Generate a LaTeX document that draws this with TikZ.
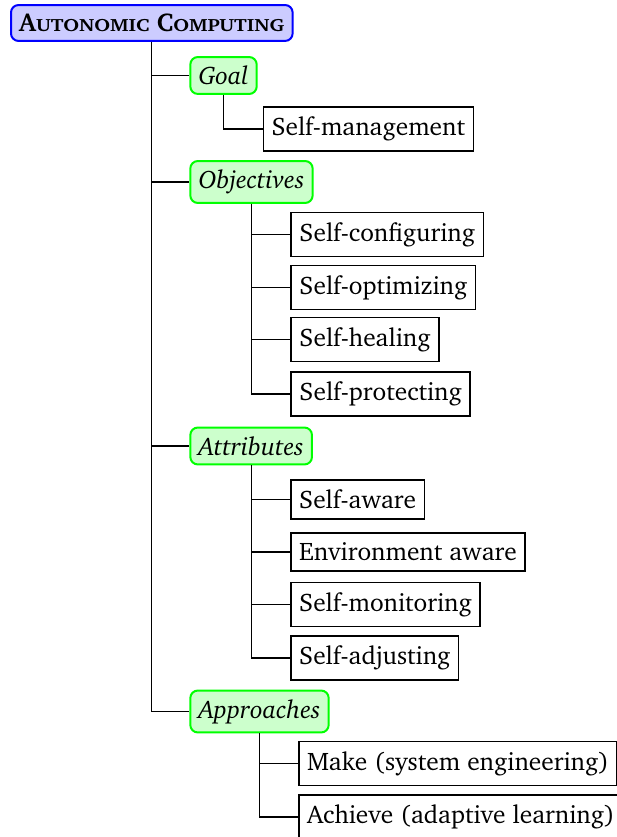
\documentclass[tikz,border=0pt]{standalone}
\usepackage[T1]{fontenc}
\usepackage{charter}
\usepackage{graphicx}
\usetikzlibrary{calc}
\newcommand{\bodysize}{\fontsize{10.15}{12.2}\selectfont}
\newcommand{\rootsize}{\fontsize{10.3}{12.4}\selectfont}
\newcommand{\fsc}[2]{#1\scalebox{1.18}[1]{\fontsize{7.1}{8}\selectfont #2}}
\begin{document}
\begin{tikzpicture}[x=0.4pt,y=-0.4pt,
  rootbox/.style={draw=blue, line width=0.8pt, fill=blue!20, rounded corners=3pt, inner xsep=3.3pt, inner ysep=3.6pt, font={\rootsize\bfseries}, anchor=west},
  catbox/.style={draw=green, line width=0.8pt, fill=green!20, rounded corners=3pt, inner xsep=3.3pt, inner ysep=3.6pt, font={\bodysize\itshape}, anchor=west},
  leafbox/.style={draw=black, line width=0.6pt, inner xsep=3.3pt, inner ysep=3.9pt, font=\bodysize, anchor=west},
  link/.style={draw=black, line width=0.5pt}]
\useasboundingbox (0,0) rectangle (617,837);
\node[rootbox] (root) at (10,23) {\fsc{A}{UTONOMIC} \fsc{C}{OMPUTING}};
% level 1
\node[catbox] (goal) at ($(root.center)+(37.5,52.5)$) {Goal};
\node[catbox] (obj)  at ($(root.center)+(37.5,159)$) {Objectives};
\node[catbox] (attr) at ($(root.center)+(37.5,423)$) {Attributes};
\node[catbox] (appr) at ($(root.center)+(37.5,688.5)$) {Approaches};
% goal
\node[leafbox] (sm) at ($(goal.center)+(39,53.5)$) {Self-management};
% objectives
\node[leafbox] (conf) at ($(obj.center)+(39,52.5)$) {Self-configuring};
\node[leafbox] (opt)  at ($(obj.center)+(39,105.5)$) {Self-optimizing};
\node[leafbox] (heal) at ($(obj.center)+(39,157.5)$) {Self-healing};
\node[leafbox] (prot) at ($(obj.center)+(39,212)$) {Self-protecting};
% attributes
\node[leafbox] (aware) at ($(attr.center)+(39,53.5)$) {Self-aware};
\node[leafbox] (env)   at ($(attr.center)+(39,106)$) {Environment aware};
\node[leafbox] (mon)   at ($(attr.center)+(39,158.5)$) {Self-monitoring};
\node[leafbox] (adj)   at ($(attr.center)+(39,212)$) {Self-adjusting};
% approaches
\node[leafbox] (make) at ($(appr.center)+(38.5,52)$) {Make (system engineering)};
\node[leafbox] (ach)  at ($(appr.center)+(38.5,105.5)$) {Achieve (adaptive learning)};
% connectors
\foreach \c in {goal,obj,attr,appr} \draw[link] (root.south) |- (\c.west);
\draw[link] (goal.south) |- (sm.west);
\foreach \c in {conf,opt,heal,prot} \draw[link] (obj.south) |- (\c.west);
\foreach \c in {aware,env,mon,adj} \draw[link] (attr.south) |- (\c.west);
\foreach \c in {make,ach} \draw[link] (appr.south) |- (\c.west);
\end{tikzpicture}
\end{document}
